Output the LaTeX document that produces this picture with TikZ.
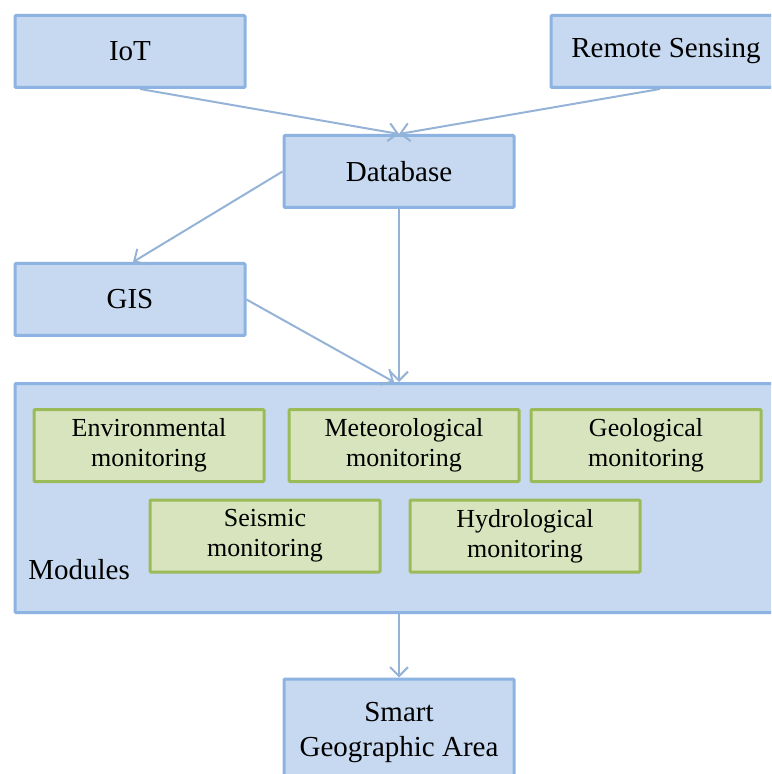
\documentclass[tikz,border=0pt]{standalone}
\usepackage{fontspec}
\setmainfont{Liberation Serif}
\usepackage{xcolor}
\definecolor{sgafill}{HTML}{C6D9F0}
\definecolor{sgaline}{HTML}{8DB3E2}
\definecolor{modfill}{HTML}{D7E4BD}
\definecolor{modline}{HTML}{9BBB59}
\definecolor{sgaarrow}{HTML}{95B3D7}
\usepackage{tikz}
\usetikzlibrary{arrows.meta,positioning,calc}

\begin{document}
\begin{tikzpicture}[x=0.5pt,y=-0.5pt,
  blkbox/.style={draw=sgaline,fill=sgafill,line width=1.5pt,rounded corners=0.5pt,
    minimum width=115pt,minimum height=36pt,align=center,
    font=\fontsize{14.5}{17.5}\selectfont},
  modbox/.style={draw=modline,fill=modfill,line width=1.5pt,rounded corners=0.5pt,
    minimum width=115pt,minimum height=36pt,align=center,
    font=\fontsize{13}{15}\selectfont},
  arr/.style={draw=sgaarrow,line width=1pt,-{Straight Barb[length=4.5pt,width=9pt]}}]
\clip (0,0) rectangle (771,774);
% sources
\node[blkbox] (iot) at (130,51.5) {IoT};
\node[blkbox] (rs) at (666,51.5) {Remote Sensing};
\node[blkbox] (db) at (399,171.5) {Database};
\node[blkbox] (gis) at (130,299.5) {GIS};
% modules panel
\node[blkbox,minimum width=383pt,minimum height=114.5pt] (mods) at (398,498) {};
\node[modbox] (env) at (149,445.5) {Environmental\\monitoring};
\node[modbox] (met) at (404,445.5) {Meteorological\\monitoring};
\node[modbox] (geo) at (646,445.5) {Geological\\monitoring};
\node[modbox] (seis) at (265,536) {Seismic\\monitoring};
\node[modbox] (hyd) at (525,536) {Hydrological\\monitoring};
\node[anchor=west,inner sep=0pt,font=\fontsize{14.5}{17.5}\selectfont] (modlbl) at (28,570) {Modules};
% output
\node[blkbox,minimum height=54pt] (sga) at (399,733) {Smart\\Geographic Area};
% connectors
\draw[arr] ([xshift=5pt]iot.south) -- (db.north);
\draw[arr] ([xshift=-3pt]rs.south) -- (db.north);
\draw[arr] (db.west) -- ([xshift=1.5pt]gis.north);
\draw[arr] (db.south) -- (db.south |- mods.north);
\draw[arr] (gis.east) -- ([xshift=-2pt]mods.north);
\draw[arr] (mods.south -| sga.north) -- (sga.north);
\end{tikzpicture}
\end{document}
